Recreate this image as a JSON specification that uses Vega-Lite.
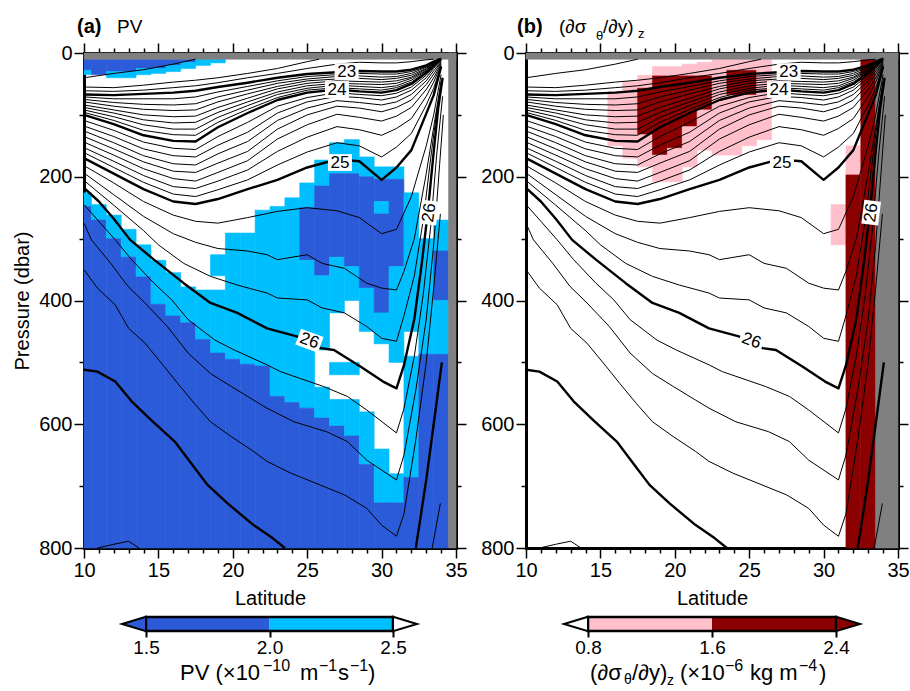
{
"$schema": "https://vega.github.io/schema/vega-lite/v6.json",
"padding": {"left": 12, "top": 17, "right": 5, "bottom": 5},
"config": {"view": {"stroke": null}, "font": "Liberation Sans",
  "axis": {"labelFont": "Liberation Sans", "titleFont": "Liberation Sans", "labelColor": "#000", "titleColor": "#000", "tickColor": "#000", "domainColor": "#000", "titleFontWeight": "normal", "grid": false, "zindex": 1, "tickWidth": 1.5, "labelFontSize": 20, "titleFontSize": 20},
  "text": {"font": "Liberation Sans", "color": "#000"}},
"datasets": {
"labels": [{"lat":27.65,"p":30,"t":"23","a":0},{"lat":27.0,"p":59,"t":"24","a":0},{"lat":27.2,"p":177,"t":"25","a":0},{"lat":25.15,"p":465,"t":"26","a":20},{"lat":33.2,"p":258,"t":"26","a":-83}],
"cellsA": [
{"lat0":10,"lat1":10.5,"p1":10,"p2":28,"c":"b"},{"lat0":10,"lat1":10.5,"p1":28,"p2":35,"c":"c"},{"lat0":10,"lat1":10.5,"p1":226,"p2":248,"c":"c"},{"lat0":10,"lat1":10.5,"p1":248,"p2":800,"c":"b"},
{"lat0":10.5,"lat1":11.5,"p1":10,"p2":35,"c":"b"},{"lat0":10.5,"lat1":11.5,"p1":245,"p2":270,"c":"c"},{"lat0":10.5,"lat1":11.5,"p1":270,"p2":800,"c":"b"},
{"lat0":11.5,"lat1":12.5,"p1":10,"p2":30,"c":"b"},{"lat0":11.5,"lat1":12.5,"p1":30,"p2":40,"c":"c"},{"lat0":11.5,"lat1":12.5,"p1":262,"p2":300,"c":"c"},{"lat0":11.5,"lat1":12.5,"p1":300,"p2":800,"c":"b"},
{"lat0":12.5,"lat1":13.5,"p1":10,"p2":30,"c":"b"},{"lat0":12.5,"lat1":13.5,"p1":30,"p2":40,"c":"c"},{"lat0":12.5,"lat1":13.5,"p1":285,"p2":330,"c":"c"},{"lat0":12.5,"lat1":13.5,"p1":330,"p2":800,"c":"b"},
{"lat0":13.5,"lat1":14.5,"p1":10,"p2":25,"c":"b"},{"lat0":13.5,"lat1":14.5,"p1":25,"p2":35,"c":"c"},{"lat0":13.5,"lat1":14.5,"p1":310,"p2":362,"c":"c"},{"lat0":13.5,"lat1":14.5,"p1":362,"p2":800,"c":"b"},
{"lat0":14.5,"lat1":15.5,"p1":10,"p2":25,"c":"b"},{"lat0":14.5,"lat1":15.5,"p1":25,"p2":33,"c":"c"},{"lat0":14.5,"lat1":15.5,"p1":335,"p2":406,"c":"c"},{"lat0":14.5,"lat1":15.5,"p1":406,"p2":800,"c":"b"},
{"lat0":15.5,"lat1":16.5,"p1":10,"p2":20,"c":"b"},{"lat0":15.5,"lat1":16.5,"p1":20,"p2":30,"c":"c"},{"lat0":15.5,"lat1":16.5,"p1":355,"p2":425,"c":"c"},{"lat0":15.5,"lat1":16.5,"p1":425,"p2":800,"c":"b"},
{"lat0":16.5,"lat1":17.5,"p1":10,"p2":15,"c":"b"},{"lat0":16.5,"lat1":17.5,"p1":15,"p2":25,"c":"c"},{"lat0":16.5,"lat1":17.5,"p1":378,"p2":436,"c":"c"},{"lat0":16.5,"lat1":17.5,"p1":436,"p2":800,"c":"b"},
{"lat0":17.5,"lat1":18.5,"p1":10,"p2":20,"c":"c"},{"lat0":17.5,"lat1":18.5,"p1":383,"p2":463,"c":"c"},{"lat0":17.5,"lat1":18.5,"p1":463,"p2":800,"c":"b"},
{"lat0":18.5,"lat1":19.5,"p1":10,"p2":16,"c":"c"},{"lat0":18.5,"lat1":19.5,"p1":326,"p2":360,"c":"c"},{"lat0":18.5,"lat1":19.5,"p1":383,"p2":485,"c":"c"},{"lat0":18.5,"lat1":19.5,"p1":485,"p2":800,"c":"b"},
{"lat0":19.5,"lat1":20.5,"p1":291,"p2":495,"c":"c"},{"lat0":19.5,"lat1":20.5,"p1":495,"p2":800,"c":"b"},
{"lat0":20.5,"lat1":21.5,"p1":291,"p2":503,"c":"c"},{"lat0":20.5,"lat1":21.5,"p1":503,"p2":800,"c":"b"},
{"lat0":21.5,"lat1":22.5,"p1":254,"p2":506,"c":"c"},{"lat0":21.5,"lat1":22.5,"p1":506,"p2":800,"c":"b"},
{"lat0":22.5,"lat1":23.5,"p1":248,"p2":555,"c":"c"},{"lat0":22.5,"lat1":23.5,"p1":555,"p2":800,"c":"b"},
{"lat0":23.5,"lat1":24.5,"p1":234,"p2":565,"c":"c"},{"lat0":23.5,"lat1":24.5,"p1":565,"p2":800,"c":"b"},
{"lat0":24.5,"lat1":25.5,"p1":210,"p2":250,"c":"c"},{"lat0":24.5,"lat1":25.5,"p1":250,"p2":335,"c":"b"},{"lat0":24.5,"lat1":25.5,"p1":335,"p2":574,"c":"c"},{"lat0":24.5,"lat1":25.5,"p1":574,"p2":800,"c":"b"},
{"lat0":25.5,"lat1":26.5,"p1":173,"p2":215,"c":"c"},{"lat0":25.5,"lat1":26.5,"p1":215,"p2":360,"c":"b"},{"lat0":25.5,"lat1":26.5,"p1":360,"p2":480,"c":"c"},{"lat0":25.5,"lat1":26.5,"p1":540,"p2":590,"c":"c"},{"lat0":25.5,"lat1":26.5,"p1":590,"p2":800,"c":"b"},
{"lat0":26.5,"lat1":27.5,"p1":145,"p2":195,"c":"c"},{"lat0":26.5,"lat1":27.5,"p1":195,"p2":330,"c":"b"},{"lat0":26.5,"lat1":27.5,"p1":330,"p2":420,"c":"c"},{"lat0":26.5,"lat1":27.5,"p1":500,"p2":520,"c":"c"},{"lat0":26.5,"lat1":27.5,"p1":560,"p2":603,"c":"c"},{"lat0":26.5,"lat1":27.5,"p1":603,"p2":800,"c":"b"},
{"lat0":27.5,"lat1":28.5,"p1":140,"p2":195,"c":"c"},{"lat0":27.5,"lat1":28.5,"p1":195,"p2":345,"c":"b"},{"lat0":27.5,"lat1":28.5,"p1":345,"p2":400,"c":"c"},{"lat0":27.5,"lat1":28.5,"p1":500,"p2":520,"c":"c"},{"lat0":27.5,"lat1":28.5,"p1":560,"p2":619,"c":"c"},{"lat0":27.5,"lat1":28.5,"p1":619,"p2":800,"c":"b"},
{"lat0":28.5,"lat1":29.5,"p1":168,"p2":200,"c":"c"},{"lat0":28.5,"lat1":29.5,"p1":200,"p2":380,"c":"b"},{"lat0":28.5,"lat1":29.5,"p1":380,"p2":450,"c":"c"},{"lat0":28.5,"lat1":29.5,"p1":580,"p2":665,"c":"c"},{"lat0":28.5,"lat1":29.5,"p1":665,"p2":800,"c":"b"},
{"lat0":29.5,"lat1":30.5,"p1":184,"p2":204,"c":"c"},{"lat0":29.5,"lat1":30.5,"p1":204,"p2":240,"c":"b"},{"lat0":29.5,"lat1":30.5,"p1":240,"p2":260,"c":"c"},{"lat0":29.5,"lat1":30.5,"p1":260,"p2":420,"c":"b"},{"lat0":29.5,"lat1":30.5,"p1":420,"p2":470,"c":"c"},{"lat0":29.5,"lat1":30.5,"p1":640,"p2":727,"c":"c"},{"lat0":29.5,"lat1":30.5,"p1":727,"p2":800,"c":"b"},
{"lat0":30.5,"lat1":31.5,"p1":184,"p2":204,"c":"c"},{"lat0":30.5,"lat1":31.5,"p1":204,"p2":345,"c":"b"},{"lat0":30.5,"lat1":31.5,"p1":345,"p2":500,"c":"c"},{"lat0":30.5,"lat1":31.5,"p1":680,"p2":727,"c":"c"},{"lat0":30.5,"lat1":31.5,"p1":727,"p2":800,"c":"b"},
{"lat0":31.5,"lat1":32.5,"p1":226,"p2":450,"c":"c"},{"lat0":31.5,"lat1":32.5,"p1":490,"p2":686,"c":"c"},{"lat0":31.5,"lat1":32.5,"p1":686,"p2":800,"c":"b"},
{"lat0":32.5,"lat1":33.5,"p1":300,"p2":487,"c":"c"},{"lat0":32.5,"lat1":33.5,"p1":487,"p2":800,"c":"b"},
{"lat0":33.5,"lat1":34.5,"p1":270,"p2":320,"c":"c"},{"lat0":33.5,"lat1":34.5,"p1":320,"p2":400,"c":"b"},{"lat0":33.5,"lat1":34.5,"p1":400,"p2":487,"c":"c"},{"lat0":33.5,"lat1":34.5,"p1":487,"p2":800,"c":"b"},
{"lat0":34.5,"lat1":35,"p1":0,"p2":800,"c":"g"},{"lat0":10,"lat1":35,"p1":0,"p2":10,"c":"g"}
],
"cellsB": [
{"lat0":15.5,"lat1":16.5,"p1":62,"p2":150,"c":"p"},{"lat0":16.5,"lat1":17.5,"p1":46,"p2":170,"c":"p"},
{"lat0":17.5,"lat1":18.5,"p1":36,"p2":57,"c":"p"},{"lat0":17.5,"lat1":18.5,"p1":57,"p2":132,"c":"r"},{"lat0":17.5,"lat1":18.5,"p1":132,"p2":184,"c":"p"},
{"lat0":18.5,"lat1":19.5,"p1":22,"p2":37,"c":"p"},{"lat0":18.5,"lat1":19.5,"p1":37,"p2":165,"c":"r"},{"lat0":18.5,"lat1":19.5,"p1":165,"p2":208,"c":"p"},
{"lat0":19.5,"lat1":20.5,"p1":22,"p2":37,"c":"p"},{"lat0":19.5,"lat1":20.5,"p1":37,"p2":154,"c":"r"},{"lat0":19.5,"lat1":20.5,"p1":154,"p2":208,"c":"p"},
{"lat0":20.5,"lat1":21.5,"p1":18,"p2":37,"c":"p"},{"lat0":20.5,"lat1":21.5,"p1":37,"p2":119,"c":"r"},{"lat0":20.5,"lat1":21.5,"p1":119,"p2":184,"c":"p"},
{"lat0":21.5,"lat1":22.5,"p1":15,"p2":37,"c":"p"},{"lat0":21.5,"lat1":22.5,"p1":37,"p2":92,"c":"r"},{"lat0":21.5,"lat1":22.5,"p1":92,"p2":157,"c":"p"},
{"lat0":22.5,"lat1":23.5,"p1":10,"p2":165,"c":"p"},
{"lat0":23.5,"lat1":24.5,"p1":10,"p2":28,"c":"p"},{"lat0":23.5,"lat1":24.5,"p1":28,"p2":68,"c":"r"},{"lat0":23.5,"lat1":24.5,"p1":68,"p2":165,"c":"p"},
{"lat0":24.5,"lat1":25.5,"p1":10,"p2":28,"c":"p"},{"lat0":24.5,"lat1":25.5,"p1":28,"p2":68,"c":"r"},{"lat0":24.5,"lat1":25.5,"p1":68,"p2":150,"c":"p"},
{"lat0":25.5,"lat1":26.5,"p1":10,"p2":140,"c":"p"},
{"lat0":30.5,"lat1":31.5,"p1":245,"p2":310,"c":"p"},
{"lat0":31.5,"lat1":32.5,"p1":150,"p2":197,"c":"p"},{"lat0":31.5,"lat1":32.5,"p1":197,"p2":800,"c":"r"},
{"lat0":32.5,"lat1":33.5,"p1":10,"p2":800,"c":"r"},
{"lat0":33.5,"lat1":35,"p1":0,"p2":800,"c":"g"},{"lat0":10,"lat1":35,"p1":0,"p2":10,"c":"g"}
],
"contours": [
{"id":"22.7","lat":10,"p":40},{"id":"22.7","lat":12,"p":33},{"id":"22.7","lat":14,"p":27},{"id":"22.7","lat":16,"p":18},{"id":"22.7","lat":17.5,"p":10},
{"id":"22.8","lat":10,"p":55},{"id":"22.8","lat":12,"p":56},{"id":"22.8","lat":14,"p":52},{"id":"22.8","lat":16,"p":47},{"id":"22.8","lat":17.5,"p":44},{"id":"22.8","lat":19,"p":40},{"id":"22.8","lat":21,"p":33},{"id":"22.8","lat":23,"p":25},{"id":"22.8","lat":25,"p":14},{"id":"22.8","lat":25.8,"p":10},
{"id":"22.9","lat":10,"p":61},{"id":"22.9","lat":12,"p":62},{"id":"22.9","lat":14,"p":60},{"id":"22.9","lat":16,"p":56},{"id":"22.9","lat":17.5,"p":53},{"id":"22.9","lat":19,"p":48},{"id":"22.9","lat":21,"p":40},{"id":"22.9","lat":23,"p":33},{"id":"22.9","lat":25,"p":25},{"id":"22.9","lat":27,"p":18},{"id":"22.9","lat":28.5,"p":15},{"id":"22.9","lat":30,"p":16},{"id":"22.9","lat":31,"p":16},{"id":"22.9","lat":32,"p":14},{"id":"22.9","lat":33,"p":11},{"id":"22.9","lat":33.5,"p":10},
{"id":"23.0","lat":10,"p":67},{"id":"23.0","lat":12,"p":68},{"id":"23.0","lat":14,"p":66},{"id":"23.0","lat":16,"p":64},{"id":"23.0","lat":17.5,"p":61},{"id":"23.0","lat":19,"p":55},{"id":"23.0","lat":21,"p":48},{"id":"23.0","lat":23,"p":40},{"id":"23.0","lat":25,"p":34},{"id":"23.0","lat":27,"p":31},{"id":"23.0","lat":28.5,"p":29},{"id":"23.0","lat":30,"p":30},{"id":"23.0","lat":31,"p":30},{"id":"23.0","lat":32,"p":27},{"id":"23.0","lat":33,"p":20},{"id":"23.0","lat":33.5,"p":14},{"id":"23.0","lat":34,"p":9},
{"id":"23.125","lat":10,"p":71},{"id":"23.125","lat":12,"p":74},{"id":"23.125","lat":14,"p":74},{"id":"23.125","lat":16,"p":74},{"id":"23.125","lat":17.5,"p":71},{"id":"23.125","lat":19,"p":63},{"id":"23.125","lat":21,"p":54},{"id":"23.125","lat":23,"p":45},{"id":"23.125","lat":25,"p":38},{"id":"23.125","lat":27,"p":35},{"id":"23.125","lat":28.5,"p":33},{"id":"23.125","lat":30,"p":34},{"id":"23.125","lat":31,"p":34},{"id":"23.125","lat":32,"p":30},{"id":"23.125","lat":33,"p":22},{"id":"23.125","lat":33.5,"p":15},{"id":"23.125","lat":34,"p":9},
{"id":"23.25","lat":10,"p":75},{"id":"23.25","lat":12,"p":80},{"id":"23.25","lat":14,"p":83},{"id":"23.25","lat":16,"p":84},{"id":"23.25","lat":17.5,"p":82},{"id":"23.25","lat":19,"p":71},{"id":"23.25","lat":21,"p":60},{"id":"23.25","lat":23,"p":49},{"id":"23.25","lat":25,"p":42},{"id":"23.25","lat":27,"p":38},{"id":"23.25","lat":28.5,"p":37},{"id":"23.25","lat":30,"p":39},{"id":"23.25","lat":31,"p":38},{"id":"23.25","lat":32,"p":33},{"id":"23.25","lat":33,"p":23},{"id":"23.25","lat":33.5,"p":16},{"id":"23.25","lat":34,"p":9},
{"id":"23.375","lat":10,"p":79},{"id":"23.375","lat":12,"p":86},{"id":"23.375","lat":14,"p":91},{"id":"23.375","lat":16,"p":93},{"id":"23.375","lat":17.5,"p":92},{"id":"23.375","lat":19,"p":79},{"id":"23.375","lat":21,"p":66},{"id":"23.375","lat":23,"p":54},{"id":"23.375","lat":25,"p":45},{"id":"23.375","lat":27,"p":42},{"id":"23.375","lat":28.5,"p":41},{"id":"23.375","lat":30,"p":43},{"id":"23.375","lat":31,"p":41},{"id":"23.375","lat":32,"p":36},{"id":"23.375","lat":33,"p":25},{"id":"23.375","lat":33.5,"p":16},{"id":"23.375","lat":34,"p":10},
{"id":"23.5","lat":10,"p":84},{"id":"23.5","lat":12,"p":92},{"id":"23.5","lat":14,"p":100},{"id":"23.5","lat":16,"p":103},{"id":"23.5","lat":17.5,"p":102},{"id":"23.5","lat":19,"p":88},{"id":"23.5","lat":21,"p":73},{"id":"23.5","lat":23,"p":58},{"id":"23.5","lat":25,"p":49},{"id":"23.5","lat":27,"p":45},{"id":"23.5","lat":28.5,"p":46},{"id":"23.5","lat":30,"p":47},{"id":"23.5","lat":31,"p":45},{"id":"23.5","lat":32,"p":39},{"id":"23.5","lat":33,"p":26},{"id":"23.5","lat":33.5,"p":17},{"id":"23.5","lat":34,"p":10},
{"id":"23.625","lat":10,"p":88},{"id":"23.625","lat":12,"p":97},{"id":"23.625","lat":14,"p":108},{"id":"23.625","lat":16,"p":113},{"id":"23.625","lat":17.5,"p":112},{"id":"23.625","lat":19,"p":96},{"id":"23.625","lat":21,"p":79},{"id":"23.625","lat":23,"p":63},{"id":"23.625","lat":25,"p":53},{"id":"23.625","lat":27,"p":49},{"id":"23.625","lat":28.5,"p":50},{"id":"23.625","lat":30,"p":51},{"id":"23.625","lat":31,"p":49},{"id":"23.625","lat":32,"p":41},{"id":"23.625","lat":33,"p":28},{"id":"23.625","lat":33.5,"p":18},{"id":"23.625","lat":34,"p":10},
{"id":"23.75","lat":10,"p":92},{"id":"23.75","lat":12,"p":103},{"id":"23.75","lat":14,"p":116},{"id":"23.75","lat":16,"p":123},{"id":"23.75","lat":17.5,"p":123},{"id":"23.75","lat":19,"p":104},{"id":"23.75","lat":21,"p":85},{"id":"23.75","lat":23,"p":67},{"id":"23.75","lat":25,"p":57},{"id":"23.75","lat":27,"p":52},{"id":"23.75","lat":28.5,"p":54},{"id":"23.75","lat":30,"p":56},{"id":"23.75","lat":31,"p":53},{"id":"23.75","lat":32,"p":44},{"id":"23.75","lat":33,"p":29},{"id":"23.75","lat":33.5,"p":18},{"id":"23.75","lat":34,"p":11},
{"id":"23.875","lat":10,"p":96},{"id":"23.875","lat":12,"p":109},{"id":"23.875","lat":14,"p":125},{"id":"23.875","lat":16,"p":132},{"id":"23.875","lat":17.5,"p":133},{"id":"23.875","lat":19,"p":112},{"id":"23.875","lat":21,"p":91},{"id":"23.875","lat":23,"p":72},{"id":"23.875","lat":25,"p":60},{"id":"23.875","lat":27,"p":56},{"id":"23.875","lat":28.5,"p":58},{"id":"23.875","lat":30,"p":60},{"id":"23.875","lat":31,"p":56},{"id":"23.875","lat":32,"p":47},{"id":"23.875","lat":33,"p":31},{"id":"23.875","lat":33.5,"p":19},{"id":"23.875","lat":34,"p":11},
{"id":"24.0","lat":10,"p":100},{"id":"24.0","lat":12,"p":115},{"id":"24.0","lat":14,"p":133},{"id":"24.0","lat":16,"p":142},{"id":"24.0","lat":17.5,"p":143},{"id":"24.0","lat":19,"p":120},{"id":"24.0","lat":21,"p":97},{"id":"24.0","lat":23,"p":76},{"id":"24.0","lat":25,"p":64},{"id":"24.0","lat":27,"p":59},{"id":"24.0","lat":28.5,"p":62},{"id":"24.0","lat":30,"p":64},{"id":"24.0","lat":31,"p":60},{"id":"24.0","lat":32,"p":50},{"id":"24.0","lat":33,"p":32},{"id":"24.0","lat":33.5,"p":20},{"id":"24.0","lat":34,"p":11},
{"id":"24.125","lat":10,"p":109},{"id":"24.125","lat":12,"p":125},{"id":"24.125","lat":14,"p":144},{"id":"24.125","lat":16,"p":154},{"id":"24.125","lat":17.5,"p":156},{"id":"24.125","lat":19,"p":135},{"id":"24.125","lat":21,"p":112},{"id":"24.125","lat":23,"p":86},{"id":"24.125","lat":25,"p":72},{"id":"24.125","lat":27,"p":64},{"id":"24.125","lat":28.5,"p":67},{"id":"24.125","lat":30,"p":69},{"id":"24.125","lat":31,"p":65},{"id":"24.125","lat":32,"p":55},{"id":"24.125","lat":33,"p":36},{"id":"24.125","lat":33.5,"p":23},{"id":"24.125","lat":34,"p":12},
{"id":"24.25","lat":10,"p":118},{"id":"24.25","lat":12,"p":135},{"id":"24.25","lat":14,"p":155},{"id":"24.25","lat":16,"p":166},{"id":"24.25","lat":17.5,"p":168},{"id":"24.25","lat":19,"p":149},{"id":"24.25","lat":21,"p":128},{"id":"24.25","lat":23,"p":97},{"id":"24.25","lat":25,"p":79},{"id":"24.25","lat":27,"p":70},{"id":"24.25","lat":28.5,"p":72},{"id":"24.25","lat":30,"p":76},{"id":"24.25","lat":31,"p":71},{"id":"24.25","lat":32,"p":60},{"id":"24.25","lat":33,"p":40},{"id":"24.25","lat":33.5,"p":25},{"id":"24.25","lat":34,"p":14},
{"id":"24.375","lat":10,"p":126},{"id":"24.375","lat":12,"p":145},{"id":"24.375","lat":14,"p":166},{"id":"24.375","lat":16,"p":179},{"id":"24.375","lat":17.5,"p":181},{"id":"24.375","lat":19,"p":163},{"id":"24.375","lat":21,"p":143},{"id":"24.375","lat":23,"p":109},{"id":"24.375","lat":25,"p":89},{"id":"24.375","lat":27,"p":77},{"id":"24.375","lat":28.5,"p":80},{"id":"24.375","lat":30,"p":84},{"id":"24.375","lat":31,"p":79},{"id":"24.375","lat":32,"p":67},{"id":"24.375","lat":33,"p":45},{"id":"24.375","lat":33.5,"p":29},{"id":"24.375","lat":34,"p":15},
{"id":"24.5","lat":10,"p":135},{"id":"24.5","lat":12,"p":155},{"id":"24.5","lat":14,"p":176},{"id":"24.5","lat":16,"p":191},{"id":"24.5","lat":17.5,"p":193},{"id":"24.5","lat":19,"p":178},{"id":"24.5","lat":21,"p":159},{"id":"24.5","lat":23,"p":123},{"id":"24.5","lat":25,"p":100},{"id":"24.5","lat":27,"p":86},{"id":"24.5","lat":28.5,"p":89},{"id":"24.5","lat":30,"p":95},{"id":"24.5","lat":31,"p":88},{"id":"24.5","lat":32,"p":76},{"id":"24.5","lat":33,"p":51},{"id":"24.5","lat":33.5,"p":34},{"id":"24.5","lat":34,"p":16},
{"id":"24.625","lat":10,"p":144},{"id":"24.625","lat":12,"p":165},{"id":"24.625","lat":14,"p":187},{"id":"24.625","lat":16,"p":203},{"id":"24.625","lat":17.5,"p":207},{"id":"24.625","lat":19,"p":193},{"id":"24.625","lat":21,"p":174},{"id":"24.625","lat":23,"p":139},{"id":"24.625","lat":25,"p":116},{"id":"24.625","lat":27,"p":99},{"id":"24.625","lat":28.5,"p":104},{"id":"24.625","lat":30,"p":110},{"id":"24.625","lat":31,"p":102},{"id":"24.625","lat":32,"p":88},{"id":"24.625","lat":33,"p":59},{"id":"24.625","lat":33.5,"p":40},{"id":"24.625","lat":34,"p":18},
{"id":"24.75","lat":10,"p":153},{"id":"24.75","lat":12,"p":175},{"id":"24.75","lat":14,"p":198},{"id":"24.75","lat":16,"p":216},{"id":"24.75","lat":17.5,"p":219},{"id":"24.75","lat":19,"p":207},{"id":"24.75","lat":21,"p":189},{"id":"24.75","lat":23,"p":159},{"id":"24.75","lat":25,"p":136},{"id":"24.75","lat":27,"p":119},{"id":"24.75","lat":28.5,"p":124},{"id":"24.75","lat":30,"p":133},{"id":"24.75","lat":31,"p":122},{"id":"24.75","lat":32,"p":106},{"id":"24.75","lat":33,"p":70},{"id":"24.75","lat":33.5,"p":47},{"id":"24.75","lat":34,"p":19},
{"id":"24.875","lat":10,"p":161},{"id":"24.875","lat":12,"p":185},{"id":"24.875","lat":14,"p":209},{"id":"24.875","lat":16,"p":228},{"id":"24.875","lat":17.5,"p":232},{"id":"24.875","lat":19,"p":221},{"id":"24.875","lat":21,"p":205},{"id":"24.875","lat":23,"p":181},{"id":"24.875","lat":25,"p":160},{"id":"24.875","lat":27,"p":145},{"id":"24.875","lat":28.5,"p":150},{"id":"24.875","lat":30,"p":168},{"id":"24.875","lat":31,"p":152},{"id":"24.875","lat":32,"p":130},{"id":"24.875","lat":33,"p":84},{"id":"24.875","lat":33.5,"p":57},{"id":"24.875","lat":34,"p":21},
{"id":"25.0","lat":10,"p":170},{"id":"25.0","lat":12,"p":195},{"id":"25.0","lat":14,"p":220},{"id":"25.0","lat":16,"p":240},{"id":"25.0","lat":17.5,"p":244},{"id":"25.0","lat":19,"p":236},{"id":"25.0","lat":21,"p":220},{"id":"25.0","lat":23,"p":205},{"id":"25.0","lat":25,"p":185},{"id":"25.0","lat":27,"p":172},{"id":"25.0","lat":28.5,"p":175},{"id":"25.0","lat":30,"p":205},{"id":"25.0","lat":31,"p":185},{"id":"25.0","lat":32,"p":157},{"id":"25.0","lat":33,"p":98},{"id":"25.0","lat":33.5,"p":68},{"id":"25.0","lat":34,"p":22},
{"id":"25.25","lat":10,"p":182},{"id":"25.25","lat":12,"p":210},{"id":"25.25","lat":14,"p":240},{"id":"25.25","lat":16,"p":262},{"id":"25.25","lat":17.5,"p":272},{"id":"25.25","lat":19,"p":275},{"id":"25.25","lat":21,"p":266},{"id":"25.25","lat":23,"p":256},{"id":"25.25","lat":25,"p":250},{"id":"25.25","lat":27,"p":255},{"id":"25.25","lat":28.5,"p":266},{"id":"25.25","lat":30,"p":292},{"id":"25.25","lat":31,"p":285},{"id":"25.25","lat":32,"p":232},{"id":"25.25","lat":33,"p":150},{"id":"25.25","lat":33.5,"p":100},{"id":"25.25","lat":34,"p":35},
{"id":"25.5","lat":10,"p":194},{"id":"25.5","lat":12,"p":229},{"id":"25.5","lat":14,"p":264},{"id":"25.5","lat":16,"p":292},{"id":"25.5","lat":17.5,"p":306},{"id":"25.5","lat":19,"p":316},{"id":"25.5","lat":21,"p":320},{"id":"25.5","lat":22.3,"p":326},{"id":"25.5","lat":23,"p":334},{"id":"25.5","lat":25,"p":326},{"id":"25.5","lat":26,"p":340},{"id":"25.5","lat":27.5,"p":348},{"id":"25.5","lat":29,"p":372},{"id":"25.5","lat":30,"p":380},{"id":"25.5","lat":31,"p":383},{"id":"25.5","lat":31.5,"p":353},{"id":"25.5","lat":32.2,"p":300},{"id":"25.5","lat":33,"p":195},{"id":"25.5","lat":33.5,"p":120},{"id":"25.5","lat":34,"p":45},
{"id":"25.75","lat":10,"p":206},{"id":"25.75","lat":12,"p":246},{"id":"25.75","lat":14,"p":287},{"id":"25.75","lat":15,"p":310},{"id":"25.75","lat":16.7,"p":340},{"id":"25.75","lat":18.5,"p":361},{"id":"25.75","lat":20.3,"p":375},{"id":"25.75","lat":22.3,"p":388},{"id":"25.75","lat":23,"p":396},{"id":"25.75","lat":25,"p":399},{"id":"25.75","lat":26,"p":412},{"id":"25.75","lat":27.5,"p":420},{"id":"25.75","lat":29,"p":442},{"id":"25.75","lat":30,"p":461},{"id":"25.75","lat":31,"p":466},{"id":"25.75","lat":31.5,"p":425},{"id":"25.75","lat":32.2,"p":360},{"id":"25.75","lat":32.8,"p":270},{"id":"25.75","lat":33.3,"p":170},{"id":"25.75","lat":33.7,"p":95},{"id":"25.75","lat":34.05,"p":50},
{"id":"26.0","lat":10,"p":218},{"id":"26.0","lat":11,"p":240},{"id":"26.0","lat":12,"p":268},{"id":"26.0","lat":13.1,"p":302},{"id":"26.0","lat":14.7,"p":334},{"id":"26.0","lat":16.7,"p":372},{"id":"26.0","lat":18.5,"p":404},{"id":"26.0","lat":20.3,"p":420},{"id":"26.0","lat":22.3,"p":445},{"id":"26.0","lat":24.3,"p":458},{"id":"26.0","lat":25.9,"p":477},{"id":"26.0","lat":26.8,"p":480},{"id":"26.0","lat":28.6,"p":507},{"id":"26.0","lat":30.1,"p":531},{"id":"26.0","lat":31,"p":542},{"id":"26.0","lat":31.5,"p":505},{"id":"26.0","lat":32.2,"p":430},{"id":"26.0","lat":32.7,"p":340},{"id":"26.0","lat":33.1,"p":258},{"id":"26.0","lat":33.5,"p":160},{"id":"26.0","lat":33.8,"p":90},{"id":"26.0","lat":34.1,"p":40},
{"id":"26.25","lat":10,"p":245},{"id":"26.25","lat":11,"p":272},{"id":"26.25","lat":12.1,"p":302},{"id":"26.25","lat":13.2,"p":334},{"id":"26.25","lat":14.7,"p":372},{"id":"26.25","lat":15.9,"p":399},{"id":"26.25","lat":17,"p":431},{"id":"26.25","lat":18.8,"p":464},{"id":"26.25","lat":20.1,"p":480},{"id":"26.25","lat":22.3,"p":504},{"id":"26.25","lat":23.2,"p":515},{"id":"26.25","lat":26.1,"p":539},{"id":"26.25","lat":27.7,"p":555},{"id":"26.25","lat":29,"p":577},{"id":"26.25","lat":31,"p":614},{"id":"26.25","lat":31.5,"p":575},{"id":"26.25","lat":32.2,"p":490},{"id":"26.25","lat":32.8,"p":390},{"id":"26.25","lat":33.3,"p":280},{"id":"26.25","lat":33.7,"p":165},{"id":"26.25","lat":34.1,"p":70},
{"id":"26.5","lat":10,"p":275},{"id":"26.5","lat":10.5,"p":302},{"id":"26.5","lat":11.8,"p":340},{"id":"26.5","lat":12.95,"p":377},{"id":"26.5","lat":14.1,"p":404},{"id":"26.5","lat":15.6,"p":442},{"id":"26.5","lat":17,"p":485},{"id":"26.5","lat":18.5,"p":518},{"id":"26.5","lat":19.9,"p":539},{"id":"26.5","lat":21.4,"p":561},{"id":"26.5","lat":22.3,"p":574},{"id":"26.5","lat":24.1,"p":596},{"id":"26.5","lat":26.3,"p":612},{"id":"26.5","lat":27.7,"p":628},{"id":"26.5","lat":29,"p":658},{"id":"26.5","lat":31,"p":690},{"id":"26.5","lat":31.5,"p":650},{"id":"26.5","lat":32.3,"p":545},{"id":"26.5","lat":33,"p":430},{"id":"26.5","lat":33.5,"p":310},{"id":"26.5","lat":33.9,"p":180},{"id":"26.5","lat":34.15,"p":100},
{"id":"26.75","lat":10,"p":350},{"id":"26.75","lat":10.9,"p":380},{"id":"26.75","lat":12.1,"p":407},{"id":"26.75","lat":13,"p":445},{"id":"26.75","lat":14.1,"p":469},{"id":"26.75","lat":15.4,"p":507},{"id":"26.75","lat":16.3,"p":534},{"id":"26.75","lat":17.4,"p":566},{"id":"26.75","lat":18.5,"p":596},{"id":"26.75","lat":19.9,"p":620},{"id":"26.75","lat":21.4,"p":644},{"id":"26.75","lat":22.3,"p":660},{"id":"26.75","lat":23.9,"p":679},{"id":"26.75","lat":27.5,"p":714},{"id":"26.75","lat":29,"p":736},{"id":"26.75","lat":30,"p":763},{"id":"26.75","lat":31,"p":781},{"id":"26.75","lat":31.5,"p":745},{"id":"26.75","lat":32.3,"p":625},{"id":"26.75","lat":33,"p":500},{"id":"26.75","lat":33.5,"p":380},{"id":"26.75","lat":33.95,"p":260},
{"id":"27W","lat":10,"p":512},{"id":"27W","lat":10.9,"p":515},{"id":"27W","lat":12.1,"p":531},{"id":"27W","lat":13.2,"p":563},{"id":"27W","lat":14.5,"p":593},{"id":"27W","lat":16.1,"p":628},{"id":"27W","lat":17.2,"p":663},{"id":"27W","lat":18.3,"p":698},{"id":"27W","lat":19.65,"p":728},{"id":"27W","lat":21.4,"p":763},{"id":"27W","lat":22.67,"p":784},{"id":"27W","lat":23.5,"p":800},
{"id":"27E","lat":32.3,"p":800},{"id":"27E","lat":33,"p":690},{"id":"27E","lat":33.5,"p":600},{"id":"27E","lat":34.05,"p":500},
{"id":"27.25W","lat":10.9,"p":800},{"id":"27.25W","lat":12,"p":794},{"id":"27.25W","lat":13,"p":789},{"id":"27.25W","lat":13.7,"p":800},
{"id":"27.25E","lat":33.4,"p":800},{"id":"27.25E","lat":33.95,"p":728}
]
},
"resolve": {"scale": {"color": "independent", "stroke": "independent", "fill": "independent", "shape": "independent"}},
"concat": [
{
"width": 372, "height": 495,
"resolve": {"axis": {"x": "independent", "y": "independent"}},
"layer": [
{"data": {"name": "cellsA"}, "mark": {"type": "rect", "strokeWidth": 0.6},
 "encoding": {
  "x": {"field": "lat0", "type": "quantitative", "scale": {"domain": [10, 35], "nice": false, "zero": false}, "axis": {"orient": "bottom", "values": [10,15,20,25,30,35], "tickSize": 10, "labelPadding": 2, "title": "Latitude", "titlePadding": 8, "domainWidth": 3, "domainCap": "square", "labelFlush": false, "labelOverlap": false}},
  "x2": {"field": "lat1"},
  "y": {"field": "p1", "type": "quantitative", "scale": {"domain": [0, 800], "reverse": true, "nice": false, "zero": false}, "axis": {"orient": "left", "values": [0,200,400,600,800], "tickSize": 10, "labelPadding": 2, "title": "Pressure (dbar)", "titlePadding": 6, "domainWidth": 3, "domainCap": "square", "labelFlush": false, "labelOverlap": false}},
  "y2": {"field": "p2"},
  "color": {"field": "c", "type": "nominal", "scale": {"domain": ["b","c","g"], "range": ["#2b5bd9","#00bfff","#808080"]}, "legend": null},
  "stroke": {"field": "c", "type": "nominal", "scale": {"domain": ["b","c","g"], "range": ["#2b5bd9","#00bfff","#808080"]}, "legend": null}
 }},
{"data": {"name": "contours"}, "mark": {"type": "line", "color": "black", "strokeJoin": "round"},
 "encoding": {
  "x": {"field": "lat", "type": "quantitative", "axis": {"orient": "bottom", "values": [11,12,13,14,16,17,18,19,21,22,23,24,26,27,28,29,31,32,33,34], "tickSize": 5, "labels": false, "title": null, "domain": false}},
  "y": {"field": "p", "type": "quantitative", "axis": {"orient": "left", "values": [100,300,500,700], "tickSize": 5, "labels": false, "title": null, "domain": false}},
  "detail": {"field": "id", "type": "nominal"},
  "strokeWidth": {"condition": {"test": "indexof(['23.0','24.0','25.0','26.0','27W','27E'], datum.id) >= 0", "value": 2.4}, "value": 1.0}
 }},
{"data": {"name": "labels"}, "mark": {"type": "point", "shape": "M-1,-0.7H1V0.7H-1Z", "size": 576, "filled": true, "color": "white", "opacity": 1, "strokeWidth": 0},
 "encoding": {
  "x": {"field": "lat", "type": "quantitative", "axis": {"orient": "top", "values": [10,15,20,25,30,35], "tickSize": 10, "labels": false, "title": null, "domainWidth": 3, "domainCap": "square"}},
  "y": {"field": "p", "type": "quantitative", "axis": {"orient": "right", "values": [0,200,400,600,800], "tickSize": 10, "labels": false, "title": null, "domainWidth": 3, "domainCap": "square"}},
  "angle": {"field": "a", "type": "quantitative", "scale": null}
 }},
{"data": {"name": "labels"}, "mark": {"type": "text", "fontSize": 17, "align": "center", "baseline": "middle"},
 "encoding": {
  "x": {"field": "lat", "type": "quantitative", "axis": {"orient": "top", "values": [11,12,13,14,16,17,18,19,21,22,23,24,26,27,28,29,31,32,33,34], "tickSize": 5, "labels": false, "title": null, "domain": false}},
  "y": {"field": "p", "type": "quantitative", "axis": {"orient": "right", "values": [100,300,500,700], "tickSize": 5, "labels": false, "title": null, "domain": false}},
  "text": {"field": "t"},
  "angle": {"field": "a", "type": "quantitative", "scale": null}
 }},
{"data": {"values": [{"t": "(a)"}]}, "mark": {"type": "text", "align": "left", "baseline": "alphabetic", "dx": -7, "dy": -20, "fontSize": 20, "fontWeight": "bold"},
 "encoding": {"x": {"datum": 10, "type": "quantitative", "axis": null}, "y": {"datum": 0, "type": "quantitative", "axis": null}, "text": {"field": "t"}}},
{"data": {"values": [{"t": "PV"}]}, "mark": {"type": "text", "align": "left", "baseline": "alphabetic", "dx": 33, "dy": -20, "fontSize": 19},
 "encoding": {"x": {"datum": 10, "type": "quantitative", "axis": null}, "y": {"datum": 0, "type": "quantitative", "axis": null}, "text": {"field": "t"}}}
]
},
{
"width": 372, "height": 495,
"resolve": {"axis": {"x": "independent", "y": "independent"}},
"layer": [
{"data": {"name": "cellsB"}, "mark": {"type": "rect", "strokeWidth": 0.6},
 "encoding": {
  "x": {"field": "lat0", "type": "quantitative", "scale": {"domain": [10, 35], "nice": false, "zero": false}, "axis": {"orient": "bottom", "values": [10,15,20,25,30,35], "tickSize": 10, "labelPadding": 2, "title": "Latitude", "titlePadding": 8, "domainWidth": 3, "domainCap": "square", "labelFlush": false, "labelOverlap": false}},
  "x2": {"field": "lat1"},
  "y": {"field": "p1", "type": "quantitative", "scale": {"domain": [0, 800], "reverse": true, "nice": false, "zero": false}, "axis": {"orient": "left", "values": [0,200,400,600,800], "tickSize": 10, "labelPadding": 2, "title": null, "domainWidth": 3, "domainCap": "square", "labelFlush": false, "labelOverlap": false}},
  "y2": {"field": "p2"},
  "color": {"field": "c", "type": "nominal", "scale": {"domain": ["p","r","g"], "range": ["#ffc0cb","#8b0000","#808080"]}, "legend": null},
  "stroke": {"field": "c", "type": "nominal", "scale": {"domain": ["p","r","g"], "range": ["#ffc0cb","#8b0000","#808080"]}, "legend": null}
 }},
{"data": {"name": "contours"}, "mark": {"type": "line", "color": "black", "strokeJoin": "round"},
 "encoding": {
  "x": {"field": "lat", "type": "quantitative", "axis": {"orient": "bottom", "values": [11,12,13,14,16,17,18,19,21,22,23,24,26,27,28,29,31,32,33,34], "tickSize": 5, "labels": false, "title": null, "domain": false}},
  "y": {"field": "p", "type": "quantitative", "axis": {"orient": "left", "values": [100,300,500,700], "tickSize": 5, "labels": false, "title": null, "domain": false}},
  "detail": {"field": "id", "type": "nominal"},
  "strokeWidth": {"condition": {"test": "indexof(['23.0','24.0','25.0','26.0','27W','27E'], datum.id) >= 0", "value": 2.4}, "value": 1.0}
 }},
{"data": {"name": "labels"}, "mark": {"type": "point", "shape": "M-1,-0.7H1V0.7H-1Z", "size": 576, "filled": true, "color": "white", "opacity": 1, "strokeWidth": 0},
 "encoding": {
  "x": {"field": "lat", "type": "quantitative", "axis": {"orient": "top", "values": [10,15,20,25,30,35], "tickSize": 10, "labels": false, "title": null, "domainWidth": 3, "domainCap": "square"}},
  "y": {"field": "p", "type": "quantitative", "axis": {"orient": "right", "values": [0,200,400,600,800], "tickSize": 10, "labels": false, "title": null, "domainWidth": 3, "domainCap": "square"}},
  "angle": {"field": "a", "type": "quantitative", "scale": null}
 }},
{"data": {"name": "labels"}, "mark": {"type": "text", "fontSize": 17, "align": "center", "baseline": "middle"},
 "encoding": {
  "x": {"field": "lat", "type": "quantitative", "axis": {"orient": "top", "values": [11,12,13,14,16,17,18,19,21,22,23,24,26,27,28,29,31,32,33,34], "tickSize": 5, "labels": false, "title": null, "domain": false}},
  "y": {"field": "p", "type": "quantitative", "axis": {"orient": "right", "values": [100,300,500,700], "tickSize": 5, "labels": false, "title": null, "domain": false}},
  "text": {"field": "t"},
  "angle": {"field": "a", "type": "quantitative", "scale": null}
 }},
{"data": {"values": [{"t": "(b)"}]}, "mark": {"type": "text", "align": "left", "baseline": "alphabetic", "dx": -9, "dy": -20, "fontSize": 20, "fontWeight": "bold"},
 "encoding": {"x": {"datum": 10, "type": "quantitative", "axis": null}, "y": {"datum": 0, "type": "quantitative", "axis": null}, "text": {"field": "t"}}},
{"data": {"values": [{"t": "(∂σ"}]}, "mark": {"type": "text", "align": "left", "baseline": "alphabetic", "dx": 33, "dy": -20, "fontSize": 19},
 "encoding": {"x": {"datum": 10, "type": "quantitative", "axis": null}, "y": {"datum": 0, "type": "quantitative", "axis": null}, "text": {"field": "t"}}},
{"data": {"values": [{"t": "θ"}]}, "mark": {"type": "text", "align": "left", "baseline": "alphabetic", "dx": 70, "dy": -13, "fontSize": 13},
 "encoding": {"x": {"datum": 10, "type": "quantitative", "axis": null}, "y": {"datum": 0, "type": "quantitative", "axis": null}, "text": {"field": "t"}}},
{"data": {"values": [{"t": "/∂y)"}]}, "mark": {"type": "text", "align": "left", "baseline": "alphabetic", "dx": 77, "dy": -20, "fontSize": 19},
 "encoding": {"x": {"datum": 10, "type": "quantitative", "axis": null}, "y": {"datum": 0, "type": "quantitative", "axis": null}, "text": {"field": "t"}}},
{"data": {"values": [{"t": "z"}]}, "mark": {"type": "text", "align": "left", "baseline": "alphabetic", "dx": 112, "dy": -15, "fontSize": 13},
 "encoding": {"x": {"datum": 10, "type": "quantitative", "axis": null}, "y": {"datum": 0, "type": "quantitative", "axis": null}, "text": {"field": "t"}}}
]
},
{
"width": 372, "height": 14,
"layer": [
{"data": {"values": [{"v0": 1.5, "v1": 2.0, "c": "lo"}, {"v0": 2.0, "v1": 2.5, "c": "hi"}]}, "mark": {"type": "rect"},
 "encoding": {
  "x": {"field": "v0", "type": "quantitative", "scale": {"domain": [1.249, 2.755], "nice": false, "zero": false}, "axis": {"orient": "bottom", "values": [1.5, 2.0, 2.5], "format": ".1f", "title": null, "domain": false, "tickSize": 6, "tickWidth": 2, "labelFontSize": 19, "labelPadding": 1, "labelFlush": false}},
  "x2": {"field": "v1"},
  "color": {"field": "c", "type": "nominal", "scale": {"domain": ["lo","hi"], "range": ["#2b5bd9","#00bfff"]}, "legend": null}
 }},
{"data": {"values": [{"v0": 1.5, "v1": 2.5}]}, "mark": {"type": "rect", "filled": false, "stroke": "black", "strokeWidth": 2.5},
 "encoding": {"x": {"field": "v0", "type": "quantitative"}, "x2": {"field": "v1"}}},
{"data": {"values": [{"v": 1.5, "end": "lo"}, {"v": 2.5, "end": "hi"}]}, "mark": {"type": "point", "filled": true, "size": 2304, "stroke": "black", "strokeWidth": 2, "opacity": 1},
 "encoding": {
  "x": {"field": "v", "type": "quantitative"},
  "shape": {"field": "end", "type": "nominal", "scale": {"domain": ["lo","hi"], "range": ["M0,-0.3L-1,0L0,0.3Z", "M0,-0.3L1,0L0,0.3Z"]}, "legend": null},
  "fill": {"field": "end", "type": "nominal", "scale": {"domain": ["lo","hi"], "range": ["#2b5bd9","#ffffff"]}, "legend": null}
 }},
{"data": {"values": [{"t": "PV (×10"}]}, "mark": {"type": "text", "align": "left", "baseline": "alphabetic", "dx": 34, "dy": 56, "fontSize": 22},
 "encoding": {"x": {"datum": 1.5, "type": "quantitative"}, "text": {"field": "t"}}},
{"data": {"values": [{"t": "−10"}]}, "mark": {"type": "text", "align": "left", "baseline": "alphabetic", "dx": 117, "dy": 47, "fontSize": 16},
 "encoding": {"x": {"datum": 1.5, "type": "quantitative"}, "text": {"field": "t"}}},
{"data": {"values": [{"t": "m"}]}, "mark": {"type": "text", "align": "left", "baseline": "alphabetic", "dx": 154, "dy": 56, "fontSize": 22},
 "encoding": {"x": {"datum": 1.5, "type": "quantitative"}, "text": {"field": "t"}}},
{"data": {"values": [{"t": "−1"}]}, "mark": {"type": "text", "align": "left", "baseline": "alphabetic", "dx": 173, "dy": 47, "fontSize": 16},
 "encoding": {"x": {"datum": 1.5, "type": "quantitative"}, "text": {"field": "t"}}},
{"data": {"values": [{"t": "s"}]}, "mark": {"type": "text", "align": "left", "baseline": "alphabetic", "dx": 192, "dy": 56, "fontSize": 22},
 "encoding": {"x": {"datum": 1.5, "type": "quantitative"}, "text": {"field": "t"}}},
{"data": {"values": [{"t": "−1"}]}, "mark": {"type": "text", "align": "left", "baseline": "alphabetic", "dx": 204, "dy": 47, "fontSize": 16},
 "encoding": {"x": {"datum": 1.5, "type": "quantitative"}, "text": {"field": "t"}}},
{"data": {"values": [{"t": ")"}]}, "mark": {"type": "text", "align": "left", "baseline": "alphabetic", "dx": 222, "dy": 56, "fontSize": 22},
 "encoding": {"x": {"datum": 1.5, "type": "quantitative"}, "text": {"field": "t"}}}
]
},
{
"width": 372, "height": 14,
"layer": [
{"data": {"values": [{"v0": 0.8, "v1": 1.6, "c": "lo"}, {"v0": 1.6, "v1": 2.4, "c": "hi"}]}, "mark": {"type": "rect"},
 "encoding": {
  "x": {"field": "v0", "type": "quantitative", "scale": {"domain": [0.4, 2.8], "nice": false, "zero": false}, "axis": {"orient": "bottom", "values": [0.8, 1.6, 2.4], "format": ".1f", "title": null, "domain": false, "tickSize": 6, "tickWidth": 2, "labelFontSize": 19, "labelPadding": 1, "labelFlush": false}},
  "x2": {"field": "v1"},
  "color": {"field": "c", "type": "nominal", "scale": {"domain": ["lo","hi"], "range": ["#ffc0cb","#8b0000"]}, "legend": null}
 }},
{"data": {"values": [{"v0": 0.8, "v1": 2.4}]}, "mark": {"type": "rect", "filled": false, "stroke": "black", "strokeWidth": 2.5},
 "encoding": {"x": {"field": "v0", "type": "quantitative"}, "x2": {"field": "v1"}}},
{"data": {"values": [{"v": 0.8, "end": "lo"}, {"v": 2.4, "end": "hi"}]}, "mark": {"type": "point", "filled": true, "size": 2304, "stroke": "black", "strokeWidth": 2, "opacity": 1},
 "encoding": {
  "x": {"field": "v", "type": "quantitative"},
  "shape": {"field": "end", "type": "nominal", "scale": {"domain": ["lo","hi"], "range": ["M0,-0.3L-1,0L0,0.3Z", "M0,-0.3L1,0L0,0.3Z"]}, "legend": null},
  "fill": {"field": "end", "type": "nominal", "scale": {"domain": ["lo","hi"], "range": ["#ffffff","#8b0000"]}, "legend": null}
 }},
{"data": {"values": [{"t": "(∂σ"}]}, "mark": {"type": "text", "align": "left", "baseline": "alphabetic", "dx": 2, "dy": 56, "fontSize": 22},
 "encoding": {"x": {"datum": 0.8, "type": "quantitative"}, "text": {"field": "t"}}},
{"data": {"values": [{"t": "θ"}]}, "mark": {"type": "text", "align": "left", "baseline": "alphabetic", "dx": 36, "dy": 60, "fontSize": 14},
 "encoding": {"x": {"datum": 0.8, "type": "quantitative"}, "text": {"field": "t"}}},
{"data": {"values": [{"t": "/∂y)"}]}, "mark": {"type": "text", "align": "left", "baseline": "alphabetic", "dx": 44, "dy": 56, "fontSize": 22},
 "encoding": {"x": {"datum": 0.8, "type": "quantitative"}, "text": {"field": "t"}}},
{"data": {"values": [{"t": "z"}]}, "mark": {"type": "text", "align": "left", "baseline": "alphabetic", "dx": 79, "dy": 61, "fontSize": 14},
 "encoding": {"x": {"datum": 0.8, "type": "quantitative"}, "text": {"field": "t"}}},
{"data": {"values": [{"t": "(×10"}]}, "mark": {"type": "text", "align": "left", "baseline": "alphabetic", "dx": 92, "dy": 56, "fontSize": 22},
 "encoding": {"x": {"datum": 0.8, "type": "quantitative"}, "text": {"field": "t"}}},
{"data": {"values": [{"t": "−6"}]}, "mark": {"type": "text", "align": "left", "baseline": "alphabetic", "dx": 137, "dy": 47, "fontSize": 16},
 "encoding": {"x": {"datum": 0.8, "type": "quantitative"}, "text": {"field": "t"}}},
{"data": {"values": [{"t": "kg m"}]}, "mark": {"type": "text", "align": "left", "baseline": "alphabetic", "dx": 162, "dy": 56, "fontSize": 22},
 "encoding": {"x": {"datum": 0.8, "type": "quantitative"}, "text": {"field": "t"}}},
{"data": {"values": [{"t": "−4"}]}, "mark": {"type": "text", "align": "left", "baseline": "alphabetic", "dx": 211, "dy": 47, "fontSize": 16},
 "encoding": {"x": {"datum": 0.8, "type": "quantitative"}, "text": {"field": "t"}}},
{"data": {"values": [{"t": ")"}]}, "mark": {"type": "text", "align": "left", "baseline": "alphabetic", "dx": 231, "dy": 56, "fontSize": 22},
 "encoding": {"x": {"datum": 0.8, "type": "quantitative"}, "text": {"field": "t"}}}
]
}
],
"columns": 2,
"spacing": {"row": 69, "column": 70},
"bounds": "flush"
}
